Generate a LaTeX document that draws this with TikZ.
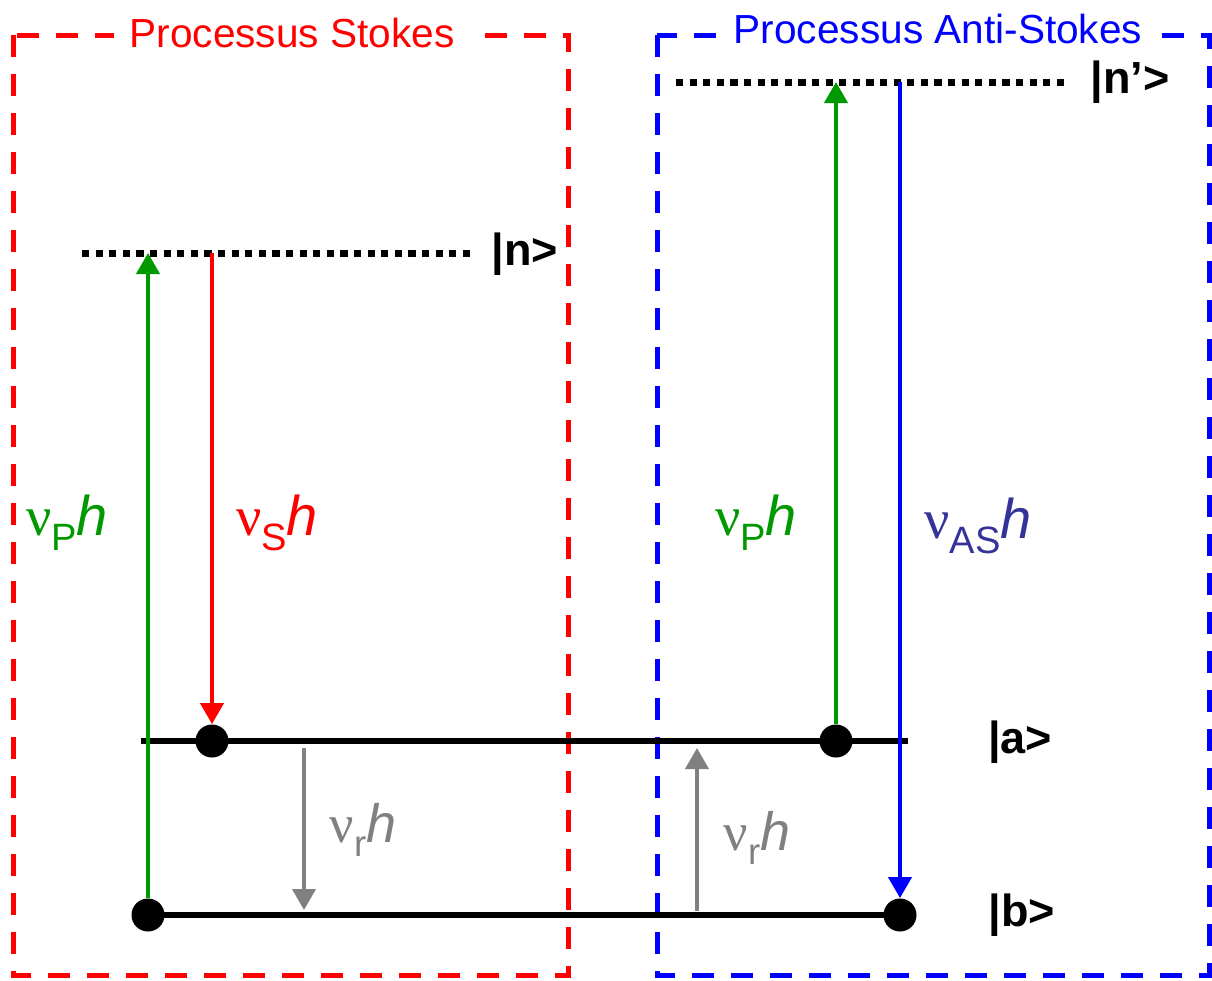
\documentclass[tikz,border=0pt]{standalone}
\usepackage{fontspec}
\setmainfont{Liberation Sans}
\newfontfamily\greekfont{Liberation Serif}
\usetikzlibrary{arrows.meta}
\definecolor{stokesred}{HTML}{FF0000}
\definecolor{antiblue}{HTML}{0000FF}
\definecolor{pumpgreen}{HTML}{009900}
\definecolor{asnavy}{HTML}{333399}
\definecolor{vibgray}{HTML}{808080}
\newcommand{\freq}[1]{{\greekfont ν}\raisebox{-0.5ex}{\scalebox{0.68}{#1}}\textit{h}}

\begin{document}
\begin{tikzpicture}[x=0.5pt,y=-0.5pt,
    frame/.style={line width=2.5pt,dash pattern=on 11pt off 8.5pt},
    title/.style={fill=white,inner xsep=8pt,inner ysep=2pt,font=\fontsize{20.3}{24}\selectfont},
    virtual/.style={line width=3.5pt,dash pattern=on 3.6pt off 3.2pt},
    level/.style={line width=2.8pt},
    dot/.style={circle,fill=black,inner sep=0pt,minimum size=16.5pt},
    trans/.style={line width=2pt,-{Triangle[length=10.5pt,width=11.5pt]}},
    ket/.style={font=\bfseries\fontsize{22.5}{27}\selectfont},
    biglabel/.style={font=\fontsize{28}{33}\selectfont},
    smalllabel/.style={font=\fontsize{27}{32}\selectfont}]
    \useasboundingbox (0,0) rectangle (1212,981);
    % boxes
    \draw[frame,stokesred] (13,35) rectangle (568,975);
    \draw[frame,antiblue] (657,35) rectangle (1209,975);
    \node[title,text=stokesred] (tstokes) at (292,33) {Processus Stokes};
    \node[title,text=antiblue] (tanti) at (938,29) {Processus Anti-Stokes};
    % virtual levels
    \draw[virtual] (82,253) -- (470,253);
    \draw[virtual] (676,82) -- (1065,82);
    \node[ket] (kn) at (525,254) {|n>};
    \node[ket] (knp) at (1130,82) {|n’>};
    \coordinate (n1) at (148,253);
    \coordinate (n2) at (212,253);
    \coordinate (m1) at (836,82);
    \coordinate (m2) at (900,82);
    % vibrational levels
    \coordinate (pa1) at (141,741);
    \coordinate (pa2) at (908,741);
    \coordinate (pb1) at (148,915);
    \coordinate (pb2) at (900,915);
    \draw[level] (pa1) -- (pa2);
    \draw[level] (pb1) -- (pb2);
    \node[ket] (ka) at (1020,742) {|a>};
    \node[ket] (kb) at (1022,915) {|b>};
    \node[dot] (b1) at (pb1) {};
    \node[dot] (a1) at (212,741) {};
    \node[dot] (a2) at (836,741) {};
    \node[dot] (b2) at (pb2) {};
    % transitions
    \draw[trans,pumpgreen] (b1) -- (n1);
    \draw[trans,stokesred] (n2) -- (a1);
    \draw[trans,pumpgreen] (a2) -- (m1);
    \draw[trans,antiblue] (m2) -- (b2);
    \coordinate (r1) at (304,748);
    \coordinate (r2) at (304,910);
    \coordinate (r3) at (697,911);
    \coordinate (r4) at (697,748);
    \draw[trans,vibgray] (r1) -- (r2);
    \draw[trans,vibgray] (r3) -- (r4);
    % labels
    \node[biglabel,text=pumpgreen] (lp1) at (67,523) {\freq{P}};
    \node[biglabel,text=stokesred] (ls) at (277,523) {\freq{S}};
    \node[biglabel,text=pumpgreen] (lp2) at (756,523) {\freq{P}};
    \node[biglabel,text=asnavy] (las) at (978,526) {\freq{AS}};
    \node[smalllabel,text=vibgray] (lr1) at (363,830) {\freq{r}};
    \node[smalllabel,text=vibgray] (lr2) at (757,838) {\freq{r}};
\end{tikzpicture}
\end{document}
